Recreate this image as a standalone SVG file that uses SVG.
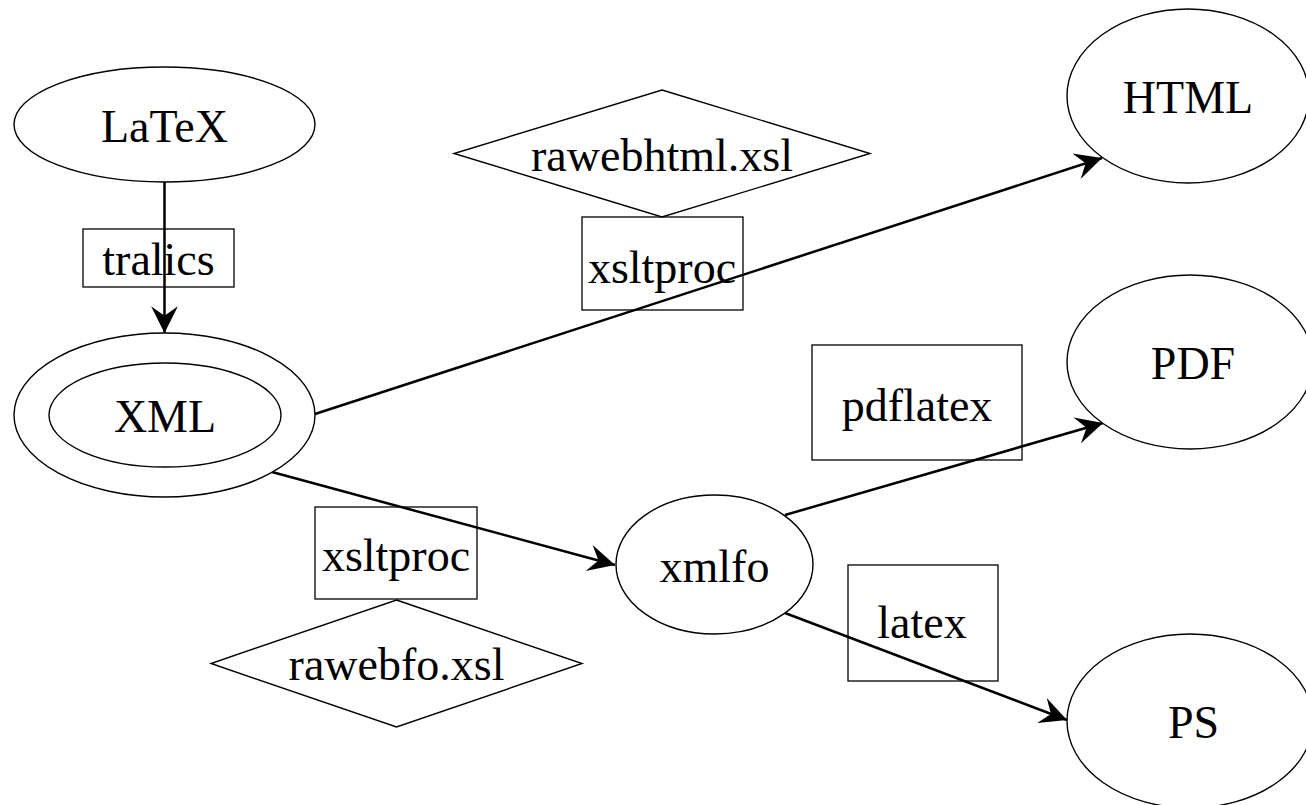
<svg xmlns="http://www.w3.org/2000/svg" width="1306" height="805" viewBox="0 0 1306 805">
<style>
.n{fill:#fff;stroke:#000;stroke-width:1.4}
.b{fill:none;stroke:#000;stroke-width:1.3}
.e{fill:none;stroke:#000;stroke-width:2.5}
text{font-family:"Liberation Serif","Times New Roman",serif;font-size:46px;text-anchor:middle;fill:#000}
</style>
<defs>
<marker id="ah" markerUnits="userSpaceOnUse" markerWidth="30" markerHeight="30" viewBox="-26 -14 28 28" refX="0" refY="0" orient="auto">
<path d="M0,0 L-25,-12.5 L-16,0 L-25,12.5 Z" fill="#000"/>
</marker>
</defs>
<rect width="1306" height="805" fill="#fff"/>
<g id="edges">
<line class="e" x1="164.5" y1="182" x2="164.5" y2="333" marker-end="url(#ah)"/>
<line class="e" x1="315" y1="414" x2="1102" y2="158" marker-end="url(#ah)"/>
<line class="e" x1="272" y1="472" x2="615" y2="565" marker-end="url(#ah)"/>
<line class="e" x1="785" y1="515" x2="1103" y2="423" marker-end="url(#ah)"/>
<line class="e" x1="785" y1="613" x2="1067" y2="720" marker-end="url(#ah)"/>
</g>
<g id="latex">
<ellipse class="n" cx="164.5" cy="124.5" rx="150.5" ry="57.5"/>
<text x="164.5" y="142">LaTeX</text>
</g>
<g id="tralics">
<rect class="b" x="83" y="229" width="151" height="58"/>
<text x="158.5" y="275">tralics</text>
</g>
<g id="xml">
<ellipse class="n" cx="164.5" cy="415" rx="150.5" ry="82"/>
<ellipse class="n" cx="165" cy="415" rx="116" ry="52"/>
<text x="165" y="432">XML</text>
</g>
<g id="rawebhtml">
<polygon class="n" points="662,90 870,153.5 662,217 454,153.5"/>
<text x="662" y="171">rawebhtml.xsl</text>
</g>
<g id="xsltproc1">
<rect class="b" x="582" y="217" width="161" height="93"/>
<text x="662" y="283">xsltproc</text>
</g>
<g id="html">
<ellipse class="n" cx="1188" cy="96" rx="121" ry="87"/>
<text x="1188" y="113">HTML</text>
</g>
<g id="pdf">
<ellipse class="n" cx="1190" cy="362" rx="123" ry="87"/>
<text x="1193" y="379">PDF</text>
</g>
<g id="ps">
<ellipse class="n" cx="1190" cy="721" rx="123" ry="87"/>
<text x="1193.5" y="738">PS</text>
</g>
<g id="xmlfo">
<ellipse class="n" cx="714.5" cy="564.5" rx="98.5" ry="69.5"/>
<text x="714.5" y="582">xmlfo</text>
</g>
<g id="pdflatex">
<rect class="b" x="812" y="345" width="210" height="115"/>
<text x="917" y="421">pdflatex</text>
</g>
<g id="latexbox">
<rect class="b" x="848" y="565" width="150" height="116"/>
<text x="922" y="638">latex</text>
</g>
<g id="xsltproc2">
<rect class="b" x="315" y="507" width="162" height="92"/>
<text x="396" y="571">xsltproc</text>
</g>
<g id="rawebfo">
<polygon class="n" points="396.5,600 582,663.5 396.5,727 211,663.5"/>
<text x="396.5" y="680">rawebfo.xsl</text>
</g>
</svg>
